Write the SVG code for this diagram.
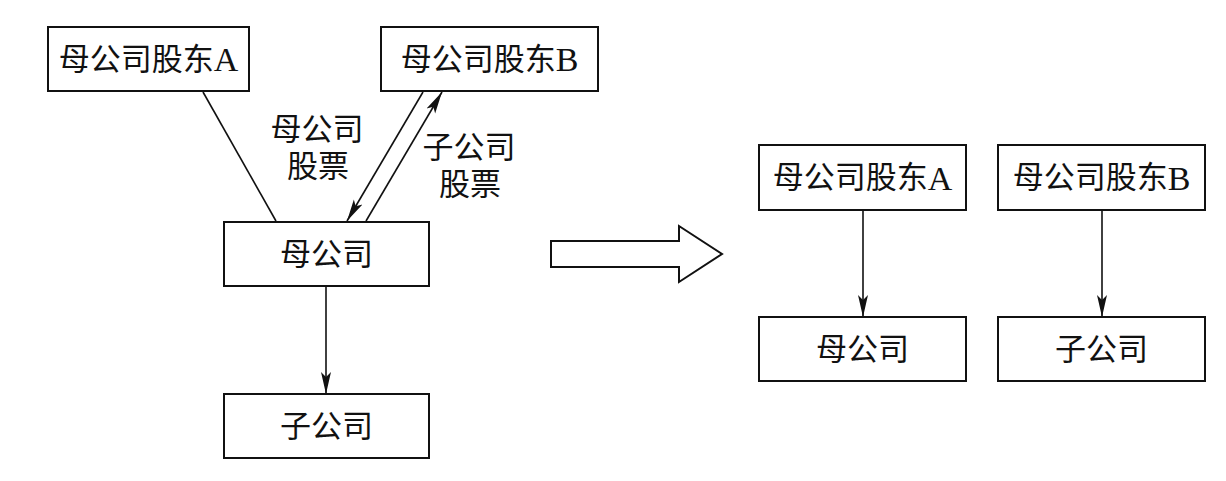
<svg xmlns="http://www.w3.org/2000/svg" width="1226" height="481" viewBox="0 0 1226 481">
<style>
.box{fill:#fff;stroke:#111;stroke-width:2}
.t{font-family:"Liberation Serif","Noto Sans CJK SC",serif;font-size:31px;fill:#111;text-anchor:middle;dominant-baseline:central}
.L{font-size:34px}
.ln{stroke:#111;stroke-width:1.6;fill:none}
</style>
<defs>
<marker id="ah" markerUnits="userSpaceOnUse" markerWidth="22" markerHeight="12" viewBox="0 0 22 12" refX="22" refY="6" orient="auto">
<path d="M0,1 L22,6 L0,11 L5,6 Z" fill="#111"/>
</marker>
</defs>
<rect width="1226" height="481" fill="#fff"/>
<g id="connectors">
<line class="ln" x1="203" y1="92" x2="276" y2="221"/>
<line class="ln" x1="423" y1="92" x2="347" y2="221" marker-end="url(#ah)"/>
<line class="ln" x1="366" y1="221" x2="442" y2="92" marker-end="url(#ah)"/>
<line class="ln" x1="326" y1="287" x2="326" y2="394" marker-end="url(#ah)"/>
<line class="ln" x1="863" y1="210" x2="863" y2="317" marker-end="url(#ah)"/>
<line class="ln" x1="1102" y1="210" x2="1102" y2="317" marker-end="url(#ah)"/>
<path d="M551,241 L679,241 L679,226 L722,254 L679,282 L679,267 L551,267 Z" fill="#fff" stroke="#111" stroke-width="2"/>
<text class="t" x="317" y="129">母公司</text>
<text class="t" x="318" y="166">股票</text>
<text class="t" x="469" y="147">子公司</text>
<text class="t" x="470" y="184">股票</text>
</g>
<g id="shareholderA"><rect class="box" x="48" y="27" width="201" height="64"/><text class="t" x="148.5" y="59">母公司股东<tspan class="L">A</tspan></text></g>
<g id="shareholderB"><rect class="box" x="381" y="27" width="217" height="64"/><text class="t" x="489.5" y="59">母公司股东<tspan class="L">B</tspan></text></g>
<g id="parent"><rect class="box" x="224" y="222" width="205" height="64"/><text class="t" x="326.5" y="254">母公司</text></g>
<g id="subsidiary"><rect class="box" x="224" y="394" width="205" height="64"/><text class="t" x="326.5" y="426">子公司</text></g>
<g id="shareholderA2"><rect class="box" x="759" y="145" width="207" height="65"/><text class="t" x="862.5" y="177.5">母公司股东<tspan class="L">A</tspan></text></g>
<g id="shareholderB2"><rect class="box" x="998" y="145" width="207" height="65"/><text class="t" x="1101.5" y="177.5">母公司股东<tspan class="L">B</tspan></text></g>
<g id="parent2"><rect class="box" x="759" y="317" width="207" height="64"/><text class="t" x="862.5" y="349">母公司</text></g>
<g id="subsidiary2"><rect class="box" x="998" y="317" width="207" height="64"/><text class="t" x="1101.5" y="349">子公司</text></g>
</svg>
